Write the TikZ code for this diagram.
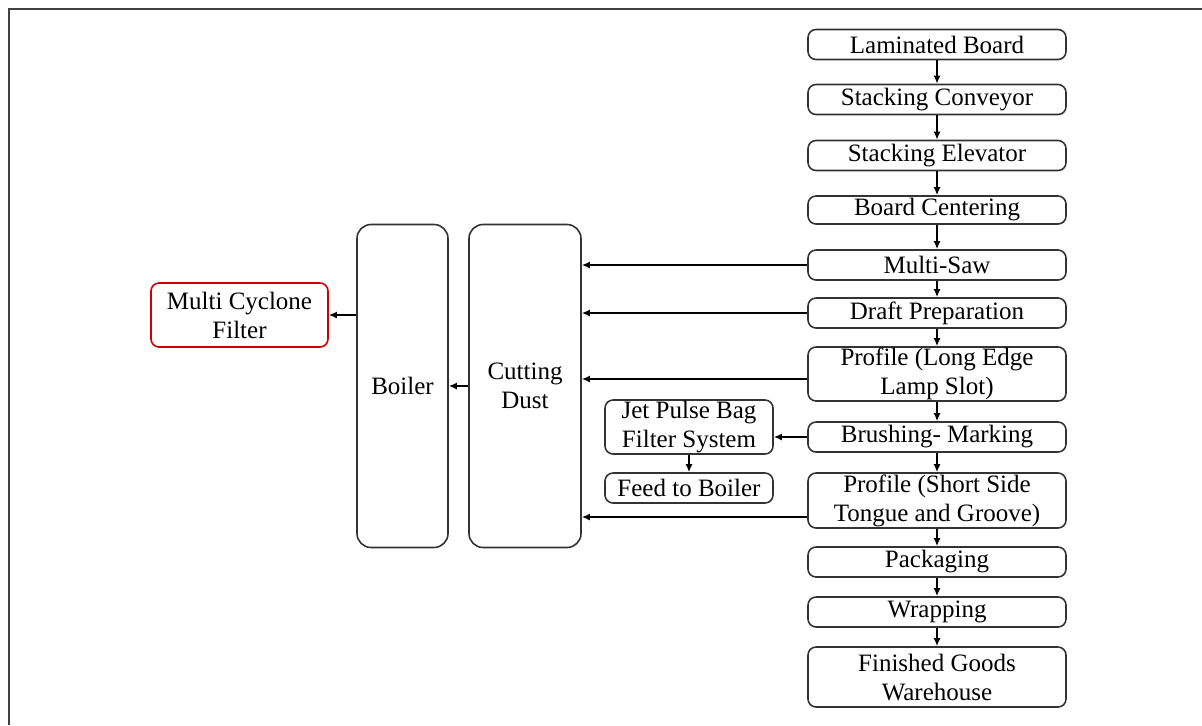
\documentclass[tikz,border=0pt]{standalone}
\usepackage{fontspec}
\setmainfont{Liberation Serif}
\usetikzlibrary{arrows.meta, positioning}

\begin{document}
\begin{tikzpicture}[x=0.5pt, y=-0.5pt,
    every node/.style={align=center, font=\fontsize{12.5}{14.5}\selectfont},
    proc/.style={rectangle, draw=black!80, line width=0.8pt, rounded corners=4pt,
      inner sep=0pt, minimum width=129pt, minimum height=15pt},
    tall/.style={rectangle, draw=black!80, line width=0.8pt, rounded corners=7pt,
      inner sep=0pt, minimum height=161.5pt},
    flow/.style={-{Latex[length=4pt, width=3.5pt]}, line width=0.85pt}]
				\useasboundingbox (0,0) rectangle (1202,725);
				\draw[black!75, line width=1pt] (9,725) -- (9,9) -- (1202,9);

				% Nodes
				\node (board) [proc] at (937,44.5) {Laminated Board};
				\node (conveyor) [proc] at (937,99.5) {Stacking Conveyor};
				\node (elevator) [proc] at (937,155.5) {Stacking Elevator};
				\node (centering) [proc, minimum height=14pt] at (937,210) {Board Centering};
				\node (saw) [proc] at (937,265) {Multi-Saw};
				\node (draft) [proc] at (937,313) {Draft Preparation};
				\node (plong) [proc, minimum height=27pt] at (937,374) {Profile (Long Edge\\Lamp Slot)};
				\node (brush) [proc] at (937,437) {Brushing- Marking};
				\node (pshort) [proc, minimum height=27.5pt] at (937,500.5) {Profile (Short Side\\Tongue and Groove)};
				\node (pack) [proc] at (937,562) {Packaging};
				\node (wrap) [proc] at (937,612) {Wrapping};
				\node (warehouse) [proc, minimum height=30pt] at (937,677) {Finished Goods\\Warehouse};

				\node (jet) [proc, minimum width=84pt, minimum height=27pt] at (689,427) {Jet Pulse Bag\\Filter System};
				\node (feed) [proc, minimum width=84pt] at (689,488) {Feed to Boiler};

				\node (dust) [tall, minimum width=56pt] at (525,386) {Cutting\\Dust};
				\node (boiler) [tall, minimum width=45.5pt] at (402.5,386) {Boiler};
				\node (cyclone) [proc, draw=red!80!black, minimum width=88.5pt, minimum height=32pt] at (239.5,315) {Multi Cyclone\\Filter};

				% Arrows
				\draw[flow] (board) -- (conveyor);
				\draw[flow] (conveyor) -- (elevator);
				\draw[flow] (elevator) -- (centering);
				\draw[flow] (centering) -- (saw);
				\draw[flow] (saw) -- (draft);
				\draw[flow] (draft) -- (plong);
				\draw[flow] (plong) -- (brush);
				\draw[flow] (brush) -- (pshort);
				\draw[flow] (pshort) -- (pack);
				\draw[flow] (pack) -- (wrap);
				\draw[flow] (wrap) -- (warehouse);

				\draw[flow] (brush.west) -- (brush.west -| jet.east);
				\draw[flow] (jet) -- (feed);

				\draw[flow] (saw.west) -- (saw.west -| dust.east);
				\draw[flow] (draft.west) -- (draft.west -| dust.east);
				\draw[flow] ([yshift=-2.5pt]plong.west) -- ([yshift=-2.5pt]plong.west -| dust.east);
				\draw[flow] ([yshift=-8.25pt]pshort.west) -- ([yshift=-8.25pt]pshort.west -| dust.east);
				\draw[flow] (dust) -- (boiler);
				\draw[flow] (boiler.west |- cyclone.east) -- (cyclone.east);
			\end{tikzpicture}
\end{document}
